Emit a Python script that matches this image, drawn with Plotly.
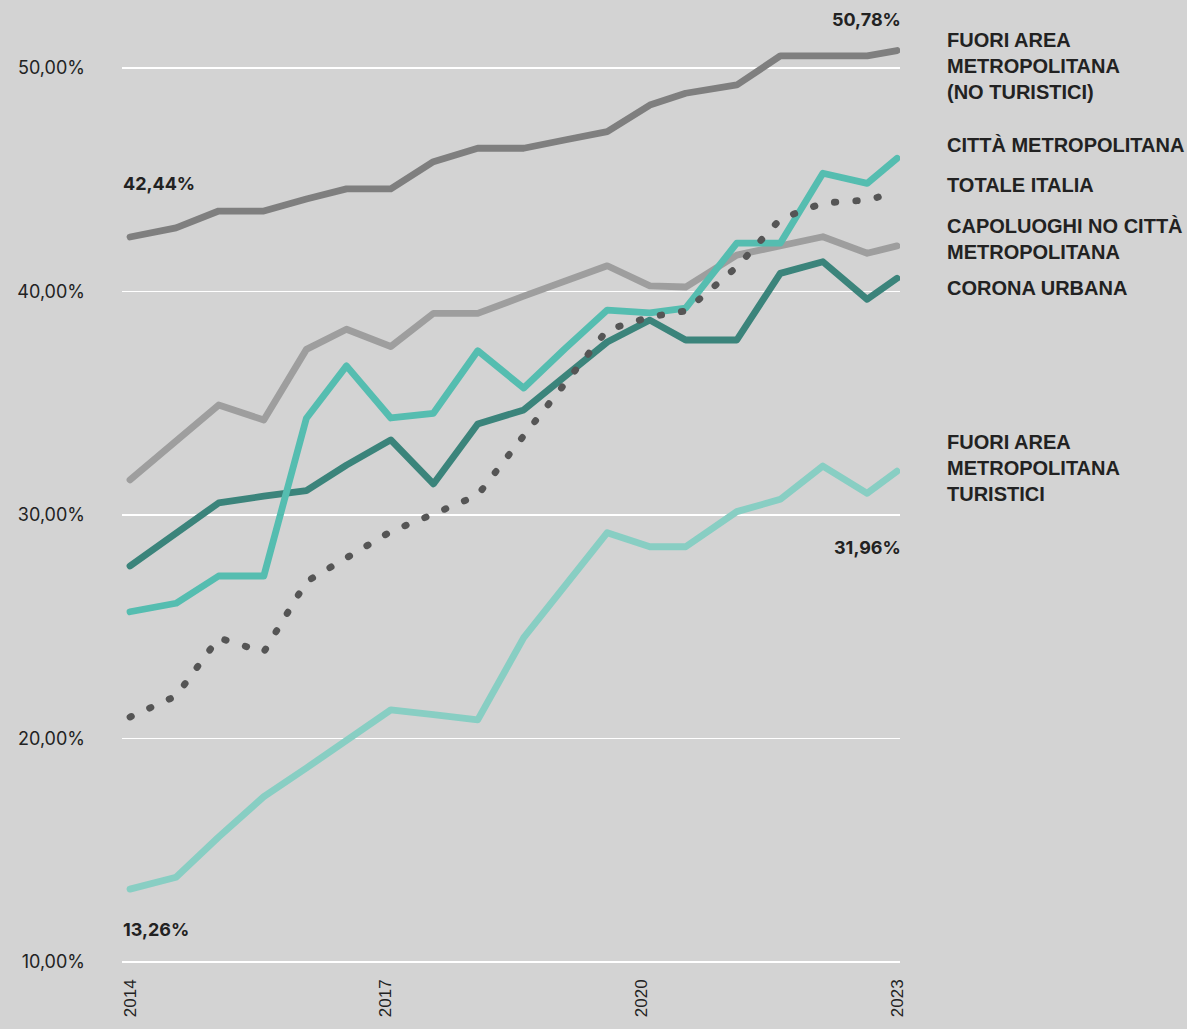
import plotly.graph_objects as go

# Observation dates (fractional years) shared by all series
dates = [2014.00, 2014.54, 2015.04, 2015.57, 2016.07, 2016.54, 2017.06, 2017.56, 2018.08,
         2018.62, 2019.10, 2019.60, 2020.10, 2020.52, 2021.12, 2021.63, 2022.13, 2022.65, 2023.00]

fuori_no_turistici = [42.44, 42.85, 43.60, 43.60, 44.14, 44.59, 44.59, 45.81, 46.41, 46.41,
                      46.78, 47.15, 48.34, 48.87, 49.24, 50.54, 50.54, 50.54, 50.78]
citta_metropolitana = [25.67, 26.05, 27.27, 27.27, 34.33, 36.67, 34.34, 34.55, 37.35, 35.68,
                       37.43, 39.17, 39.04, 39.26, 42.16, 42.16, 45.29, 44.84, 45.96]
totale_italia = [20.96, 21.90, 24.50, 23.87, 27.02, 28.08, 29.26, 30.04, 30.89, 33.55,
                 35.91, 38.28, 38.86, 39.13, 41.10, 43.24, 43.96, 44.09, 44.45]
capoluoghi = [31.57, 33.32, 34.92, 34.25, 37.41, 38.31, 37.54, 39.02, 39.02, 39.79,
              40.48, 41.15, 40.25, 40.20, 41.63, 42.04, 42.45, 41.71, 42.04]
corona_urbana = [27.72, 29.18, 30.54, 30.84, 31.09, 32.23, 33.36, 31.39, 34.07, 34.70,
                 36.18, 37.74, 38.72, 37.83, 37.83, 40.81, 41.33, 39.65, 40.59]
fuori_turistici = [13.26, 13.79, 15.59, 17.40, 18.68, 19.89, 21.28, 21.07, 20.83, 24.51,
                   26.80, 29.21, 28.58, 28.58, 30.15, 30.70, 32.19, 30.97, 31.96]

y_tickvals = [10, 20, 30, 40, 50]
y_ticktext = ["10,00%", "20,00%", "30,00%", "40,00%", "50,00%"]
x_tickvals = [2014, 2017, 2020, 2023]
x_ticktext = ["2014", "2017", "2020", "2023"]

series = [
    ("FUORI AREA METROPOLITANA TURISTICI", fuori_turistici, "#88cec3", "solid"),
    ("FUORI AREA METROPOLITANA (NO TURISTICI)", fuori_no_turistici, "#7f7f7f", "solid"),
    ("CAPOLUOGHI NO CITTÀ METROPOLITANA", capoluoghi, "#9e9e9e", "solid"),
    ("CORONA URBANA", corona_urbana, "#3b847b", "solid"),
    ("CITTÀ METROPOLITANA", citta_metropolitana, "#55bdb0", "solid"),
    ("TOTALE ITALIA", totale_italia, "#555555", "1.5px,20px"),
]

fig = go.Figure()
for name, vals, color, dash in series:
    fig.add_trace(go.Scatter(x=dates, y=vals, mode="lines", name=name,
                             line=dict(color=color, width=6.8, dash=dash),
                             cliponaxis=False, hoverinfo="skip"))

ink = "#222222"
val_font = dict(family="Inter, Liberation Sans, sans-serif", size=18, color=ink)

def val_label(x, y, text, xanchor, xshift, yshift):
    fig.add_annotation(x=x, y=y, xref="x", yref="y", text="<b>%s</b>" % text,
                       showarrow=False, xanchor=xanchor, yanchor="middle",
                       xshift=xshift, yshift=yshift, font=val_font)

val_label(dates[0], fuori_no_turistici[0], "42,44%", "left", -9, 53)
val_label(dates[0], fuori_turistici[0], "13,26%", "left", -9, -40)
val_label(dates[-1], fuori_no_turistici[-1], "50,78%", "right", 6, 31)
val_label(dates[-1], fuori_turistici[-1], "31,96%", "right", 6, -76)

# Right-hand series labels (paper coordinates)
L, R, T, B = 122, 287, 30, 54
W, H = 1187, 1029
pw, ph = W - L - R, H - T - B

def px_x(px):
    return (px - L) / pw

def px_y(py):
    return (H - B - py) / ph

lab_font = dict(family="Liberation Sans, Arial, sans-serif", size=20, color=ink)
right_labels = [
    ("FUORI AREA<br>METROPOLITANA<br>(NO TURISTICI)", 66),
    ("CITTÀ METROPOLITANA", 145),
    ("TOTALE ITALIA", 185),
    ("CAPOLUOGHI NO CITTÀ<br>METROPOLITANA", 239),
    ("CORONA URBANA", 288),
    ("FUORI AREA<br>METROPOLITANA<br>TURISTICI", 468),
]
for text, py in right_labels:
    fig.add_annotation(x=px_x(945), y=px_y(py), xref="paper", yref="paper",
                       text="<b>%s</b>" % text, showarrow=False, xanchor="left",
                       yanchor="middle", align="left", font=lab_font)

fig.update_layout(
    width=W, height=H, autosize=False,
    margin=dict(l=L, r=R, t=T, b=B, pad=0),
    paper_bgcolor="#d3d3d3", plot_bgcolor="#d3d3d3",
    showlegend=False,
    xaxis=dict(range=[2013.906, 2023.035], tickvals=x_tickvals, ticktext=x_ticktext,
               tickangle=-90, showgrid=False, zeroline=False, showline=False, ticks="",
               tickfont=dict(family="Liberation Sans, Arial, sans-serif", size=17, color=ink)),
    yaxis=dict(range=[9.418, 51.70], tickvals=y_tickvals, ticktext=y_ticktext,
               showgrid=True, gridcolor="#ffffff", gridwidth=1.5, zeroline=False,
               showline=False, ticks="", ticklabelstandoff=36,
               tickfont=dict(family="Inter, Liberation Sans, sans-serif", size=18, color=ink)),
)

post = """
document.documentElement.style.margin = '0';
document.documentElement.style.background = '#d3d3d3';
document.body.style.margin = '0';
document.body.style.padding = '0';
document.body.style.background = '#d3d3d3';
document.body.style.overflow = 'hidden';
var gd = document.getElementById('{plot_id}');
gd.querySelectorAll('.scatterlayer path.js-line').forEach(function(p){
  p.style.strokeLinecap = 'round';
  p.style.strokeLinejoin = 'round';
});
"""
fig.write_html("out.html", post_script=post, config={"displayModeBar": False, "staticPlot": True})
